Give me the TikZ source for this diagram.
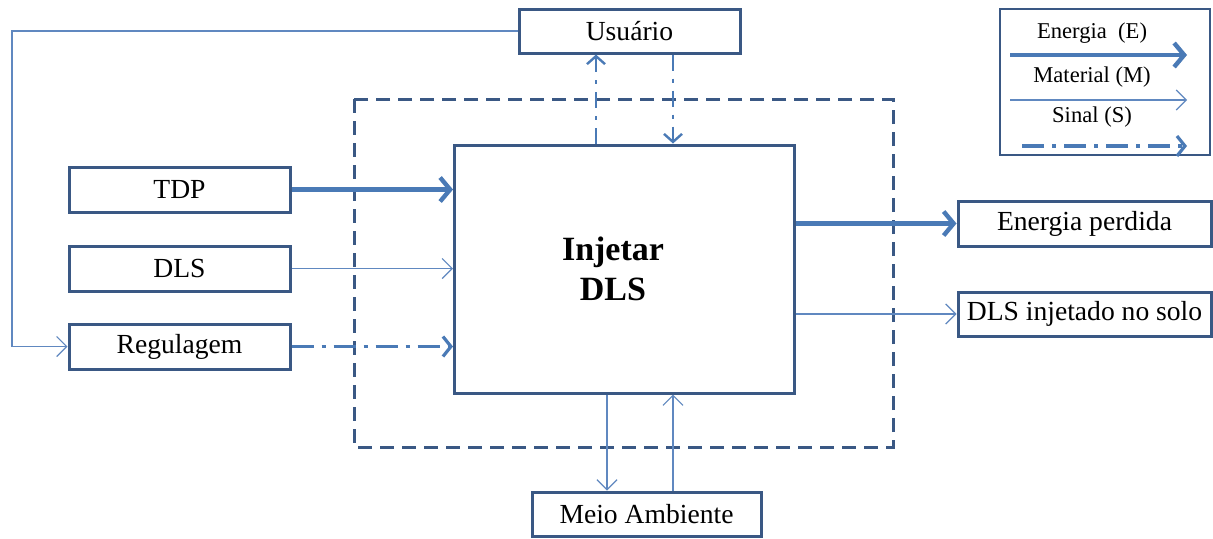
\documentclass[tikz,border=0pt]{standalone}
\usepackage{fontspec}
\setmainfont{Liberation Serif}
\usetikzlibrary{arrows.meta,calc}
\definecolor{boxc}{RGB}{58,88,132}
\definecolor{arrc}{RGB}{74,122,182}
\definecolor{thinc}{RGB}{96,136,192}
\tikzset{
  blk/.style={draw=boxc, line width=1.5pt, fill=white, inner sep=0pt, font=\fontsize{13.8}{16}\selectfont},
  ener/.style={draw=arrc, line width=2.2pt, -{Straight Barb[length=5pt,width=12pt,line width=2.2pt]}},
  mat/.style={draw=thinc, line width=0.6pt, -{Straight Barb[length=5pt,width=10pt,line width=0.6pt]}},
  sig/.style={draw=arrc, line width=1.6pt, dash pattern=on 11pt off 4pt on 2pt off 4pt, -{Straight Barb[length=4pt,width=10pt,line width=1.6pt]}},
  sigv/.style={draw=arrc, line width=1.2pt, dash pattern=on 8pt off 4pt on 2pt off 4pt, -{Straight Barb[length=4pt,width=9pt,line width=1.2pt]}},
  legtxt/.style={font=\fontsize{11.3}{13}\selectfont, inner sep=0pt}
}
\begin{document}
\begin{tikzpicture}[x=0.5pt,y=-0.5pt]
\useasboundingbox[fill=white] (0,0) rectangle (1213,538);
% dashed system boundary
\draw[draw=boxc, line width=1.5pt, dash pattern=on 7pt off 4pt] (354,99) rectangle (893,447);
% main
\node[blk, minimum width=170pt, minimum height=124pt] (main) at (624.5,269) {};
\node[font=\fontsize{17}{20}\selectfont\bfseries, align=center, inner sep=0pt] (mtxt) at (613,269) {Injetar\\DLS};
% boxes
\node[blk, minimum width=110.5pt, minimum height=22pt] (usr) at (629.5,31) {Usuário};
\node[blk, minimum width=110.5pt, minimum height=22.5pt] (tdp) at (179.5,189.5) {TDP};
\node[blk, minimum width=110.5pt, minimum height=22.5pt] (dls) at (179.5,268.5) {DLS};
\node[blk, minimum width=110.5pt, minimum height=22.5pt] (reg) at (179.5,346.5) {Regulagem};
\node[blk, minimum width=126.5pt, minimum height=22.5pt] (ep) at (1084.5,223.5) {Energia perdida};
\node[blk, minimum width=126.5pt, minimum height=22pt] (dinj) at (1084.5,314) {DLS injetado no solo};
\node[blk, minimum width=114.5pt, minimum height=22pt] (meio) at (646.5,514) {Meio Ambiente};
% helper coordinates
\coordinate (xu) at (596,0);
\coordinate (xd) at (673,0);
\coordinate (xm1) at (607,0);
\coordinate (xm2) at (673,0);
\coordinate (fb) at (12,31);
% inputs
\draw[ener] (tdp.east) -- (main.west |- tdp.east);
\draw[mat] (dls.east) -- (main.west |- dls.east);
\draw[sig] (reg.east) -- (main.west |- reg.east);
% outputs
\draw[ener] (main.east |- ep.west) -- (ep.west);
\draw[mat] (main.east |- dinj.west) -- (dinj.west);
% user signals
\draw[sigv] (main.north -| xu) -- (usr.south -| xu);
\draw[sigv] (usr.south -| xd) -- (main.north -| xd);
% environment
\draw[mat] (main.south -| xm1) -- (meio.north -| xm1);
\draw[mat] (meio.north -| xm2) -- (main.south -| xm2);
% feedback
\draw[mat] (usr.west) -- (fb) |- (reg.west);
% legend
\node[draw=boxc, line width=1.2pt, minimum width=105pt, minimum height=73pt, inner sep=0pt] (leg) at (1105,82) {};
\node[legtxt] (le) at (1092,33) {Energia\hspace{0.5em}(E)};
\node[legtxt] (lm) at (1092,77) {Material (M)};
\node[legtxt] (ls) at (1092,117) {Sinal (S)};
\coordinate (e1) at (1010,55); \coordinate (e2) at (1187,55);
\coordinate (m1) at (1010,100); \coordinate (m2) at (1187,100);
\coordinate (s1) at (1022,146); \coordinate (s2) at (1187,146);
\draw[ener] (e1) -- (e2);
\draw[mat] (m1) -- (m2);
\draw[sig] (s1) -- (s2);
\end{tikzpicture}
\end{document}
